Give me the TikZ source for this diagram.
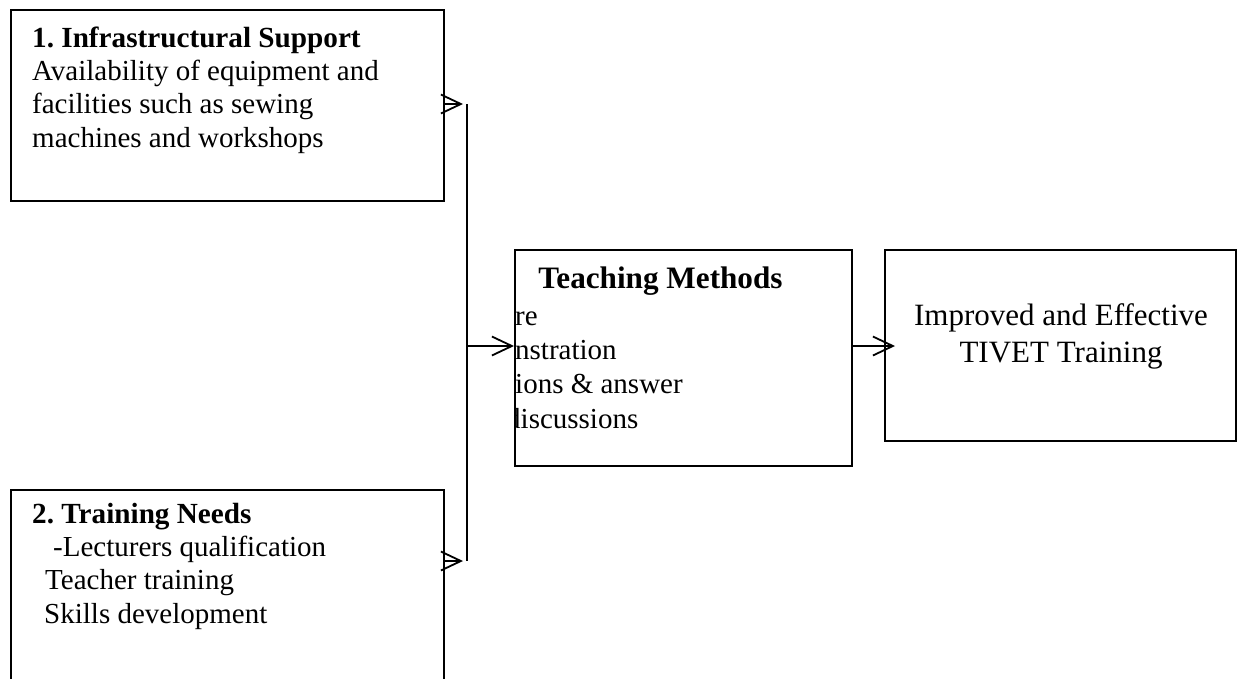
\documentclass[tikz,border=0pt]{standalone}
\usepackage{fontspec}
\setmainfont{Liberation Serif}
\usetikzlibrary{arrows.meta,positioning}
\frenchspacing
\newcommand{\headfont}{\fontsize{29.2}{33.3}\selectfont\bfseries}
\tikzset{
  block/.style={draw, line width=1.8pt, inner sep=0pt},
  flow/.style={line width=1.8pt, -{Straight Barb[length=20pt,width=19pt]}},
  bodytext/.style={inner sep=0pt, anchor=base west, align=left, font=\fontsize{29}{33.3}\selectfont},
}
\begin{document}
\begin{tikzpicture}[x=1pt,y=-1pt]
\useasboundingbox (0,0) rectangle (1242,678);
% boxes
\node[block, anchor=north west, minimum width=433pt, minimum height=191pt] (infra) at (10,9) {};
\node[block, anchor=north west, minimum width=433pt, minimum height=220pt] (needs) at (10,489) {};
\node[block, anchor=north west, minimum width=337pt, minimum height=216pt] (methods) at (514,249) {};
\node[block, anchor=north west, minimum width=351pt, minimum height=191pt] (outcome) at (884,249) {};
% texts (base anchor = last line)
\node[bodytext] (infra-txt) at (32,147) {{\headfont 1. Infrastructural Support}\\Availability of equipment and\\facilities such as sewing\\machines and workshops};
\node[bodytext] (needs-txt) at (32,623) {{\headfont 2. Training Needs}\\\hspace*{21pt}-Lecturers qualification\\\hspace*{13pt}Teacher training\\\hspace*{12pt}Skills development};
\node[inner sep=0pt, anchor=base, font=\fontsize{31.2}{34}\selectfont\bfseries] (methods-title) at (660.5,288) {Teaching Methods};
\begin{scope}
  \clip (methods.north west) rectangle (methods.south east);
  \node[bodytext, font=\fontsize{29}{34.3}\selectfont] (methods-list) at (515,428) {re\\nstration\\ions \& answer\\\kern-9pt discussions};
\end{scope}
\node[inner sep=0pt, anchor=base, align=center, font=\fontsize{31}{37}\selectfont] (outcome-txt) at (1061,362) {Improved and Effective\\TIVET Training};
% connectors
\coordinate (tip1) at (463,104);
\coordinate (tip2) at (463,561);
\coordinate (bus-top) at (467,104);
\coordinate (bus-bot) at (467,561);
\coordinate (bus-mid) at (467,346);
\coordinate (tip3) at (895,346);
\draw[flow] (infra.east |- tip1) -- (tip1);
\draw[flow] (needs.east |- tip2) -- (tip2);
\draw[line width=1.8pt] (bus-top) -- (bus-bot);
\draw[flow] (bus-mid) -- (methods.west |- bus-mid);
\draw[flow] (methods.east |- bus-mid) -- (tip3);
\end{tikzpicture}
\end{document}
